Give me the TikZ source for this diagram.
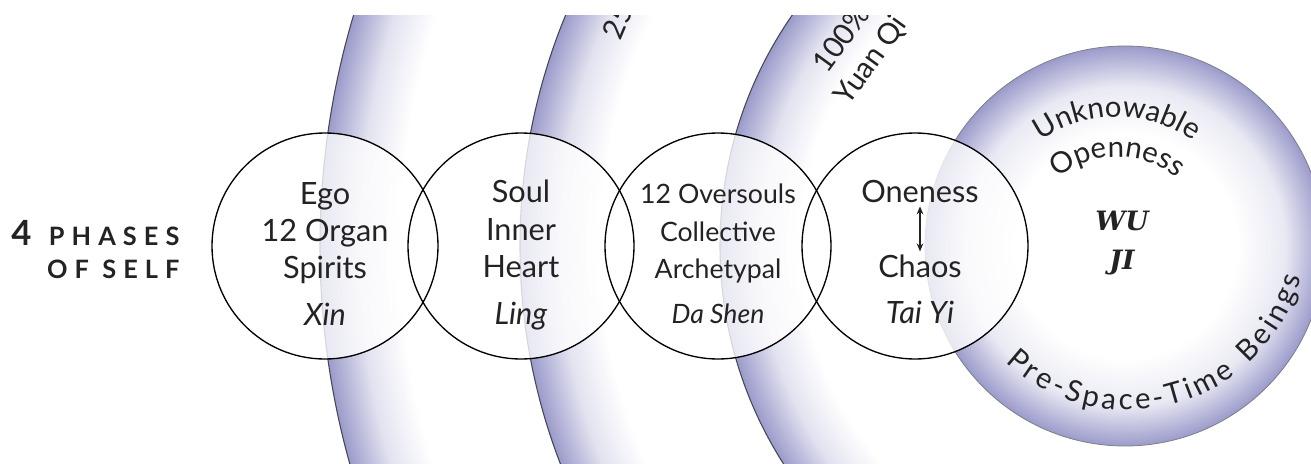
\documentclass[tikz,border=0pt]{standalone}
\usepackage{fontspec}
\setmainfont{Lato}
\newfontfamily\wujifont{DejaVu Serif}
\newfontfamily\trackfont[LetterSpace=28]{Lato}
\newfontfamily\curvefont[LetterSpace=10]{Lato}
\usetikzlibrary{arrows.meta,decorations.text}

\definecolor{lav}{RGB}{155,155,203}
\definecolor{ink}{RGB}{35,35,35}
\definecolor{rimline}{RGB}{70,70,85}

% radial fills, the rim of the path sits at 25bp
\pgfdeclareradialshading{ringfour}{\pgfpoint{0bp}{0bp}}{color(0bp)=(white); color(22.52bp)=(white); color(23.76bp)=(lav!28); color(25bp)=(lav); color(50bp)=(lav)}
\pgfdeclareradialshading{ringthree}{\pgfpoint{0bp}{0bp}}{color(0bp)=(white); color(21.69bp)=(white); color(23.35bp)=(lav!28); color(25bp)=(lav); color(50bp)=(lav)}
\pgfdeclareradialshading{ringtwo}{\pgfpoint{0bp}{0bp}}{color(0bp)=(white); color(20.06bp)=(white); color(22.53bp)=(lav!28); color(25bp)=(lav); color(50bp)=(lav)}
\pgfdeclareradialshading{wujiglow}{\pgfpoint{0bp}{0bp}}{color(0bp)=(white); color(14bp)=(white); color(20bp)=(lav!22); color(25bp)=(lav); color(50bp)=(lav)}

\tikzset{every picture/.style={line width=0.75pt}}
\tikzset{
  phase/.style={circle, draw=black, line width=1pt, minimum size=169.5pt, inner sep=0pt},
  phasefill/.style={fill=white, fill opacity=0.78},
  phasetext/.style={align=center, text=ink, font=\fontsize{23}{28}\selectfont},
  ringtext/.style={align=center, text=ink, font=\fontsize{22}{27}\selectfont},
  curvetext/.style={decorate, decoration={text along path, text align=center, text color=ink, text={|\curvefont\fontsize{22}{22}\selectfont|#1}}},
  fitcurvetext/.style={decorate, decoration={text along path, text align={fit to path}, text color=ink, text={|\curvefont\fontsize{22}{22}\selectfont|#1}}},
}

\begin{document}
\begin{tikzpicture}[x=0.75pt,y=0.75pt,yscale=-1,xscale=1]
\useasboundingbox (0,0) rectangle (1311,464);

\begin{scope}
\clip (0,15) rectangle (1311,464);
%Shape: Circle (outer ring)
\shadedraw [draw=rimline, line width=0.8pt, shading=ringfour] (1125,246) circle (805);
%Shape: Circle
\shadedraw [draw=rimline, line width=0.8pt, shading=ringthree] (1125,246) circle (605);
%Shape: Circle
\shadedraw [draw=rimline, line width=0.8pt, shading=ringtwo] (1125,246) circle (405);
%Shape: Circle (Wu Ji)
\shadedraw [draw=rimline!70, line width=0.6pt, shading=wujiglow] (1125,246) circle (200);

% Text Node
\draw (622,11) node (ringpct) [ringtext, rotate=67] {25\%};
% Text Node
\draw (857,50) node (yuanqi) [ringtext, rotate=54] {100\%\\Yuan Qi};
\end{scope}

% veils of the four phases, then their outlines
\fill [phasefill] (325,246) circle (113) (521,246) circle (113) (718,246) circle (113) (915,246) circle (113);
%Shape: Circle
\draw (325,246) node (egoring) [phase] {};
%Shape: Circle
\draw (521,246) node (soulring) [phase] {};
%Shape: Circle
\draw (718,246) node (shenring) [phase] {};
%Shape: Circle
\draw (915,246) node (taiyiring) [phase] {};

% Text Node
\draw (180,245) node (phases) [anchor=base east, text=ink, inner sep=0pt] {{\bfseries\fontsize{26}{26}\selectfont 4}\hspace{13pt}{\trackfont\bfseries\fontsize{19}{19}\selectfont PHASES}};
% Text Node
\draw (180,278) node (ofself) [anchor=base east, text=ink, inner sep=0pt] {\trackfont\bfseries\fontsize{19}{19}\selectfont OF SELF};

% Text Node
\draw (325,254) node (xin) [phasetext] {Ego\\12 Organ\\Spirits\\[7pt]\textit{Xin}};
% Text Node
\draw (521,255) node (ling) [phasetext] {Soul\\Inner\\Heart\\[7pt]\textit{Ling}};
% Text Node
\draw (718,254) node (dashen) [phasetext, font=\fontsize{20}{28}\selectfont] {12 Oversouls\\Collective\\Archetypal\\[6pt]\textit{Da Shen}};
% Text Node
\draw (920,192) node (oneness) [phasetext, inner sep=2pt] {Oneness};
% Text Node
\draw (920,266) node (chaos) [phasetext, inner sep=2pt] {Chaos};
% Text Node
\draw (920,312) node (taiyi) [phasetext] {\textit{Tai Yi}};
\draw [{Stealth[length=6pt,width=5pt]}-{Stealth[length=6pt,width=5pt]}, ink, line width=0.8pt] (oneness) -- (chaos);

% Text Node
\draw (1122,243) node (wuji) [align=center, text=ink, font=\wujifont\bfseries\itshape\fontsize{20}{29}\selectfont] {WU\\JI};

% curved labels round Wu Ji
\path [curvetext={Unknowable}] (1117,250) ++(-155:133) arc [start angle=-155, end angle=-25, radius=133];
\path [curvetext={Openness}] (1117,250) ++(-160:93) arc [start angle=-160, end angle=-20, radius=93];
\path [fitcurvetext={Pre-Space-Time Beings}] (1128,231) ++(133:179) arc [start angle=133, end angle=15, radius=179];

\end{tikzpicture}
\end{document}
